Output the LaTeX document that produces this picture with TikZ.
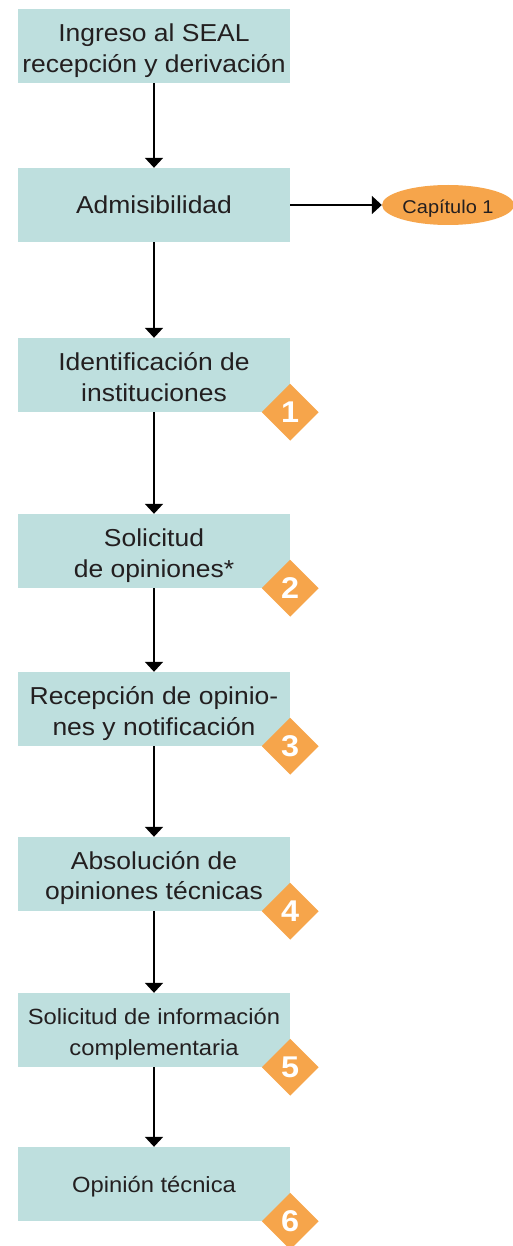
\documentclass[tikz,border=0pt]{standalone}
\usepackage{fontspec}
\setmainfont{Liberation Sans}[FakeStretch=1.08]
\usetikzlibrary{shapes.geometric,arrows.meta}
\definecolor{boxfill}{HTML}{BEDFDE}
\definecolor{orng}{HTML}{F6A54B}
\definecolor{ink}{HTML}{231F20}
\tikzset{
  stepbox/.style={rectangle, fill=boxfill, minimum width=272pt, minimum height=74pt, inner sep=0pt},
  lbl/.style={anchor=base, inner sep=0pt, text=ink, font=\fontsize{24.5}{31}\selectfont},
  slbl/.style={lbl, font=\fontsize{22}{31}\selectfont},
  badge/.style={diamond, fill=orng, minimum size=57pt, inner sep=0pt, text=white, font=\fontsize{30}{30}\selectfont\bfseries},
  flow/.style={line width=2pt, draw=black, -{Triangle[width=18pt,length=10pt]}},
  chap/.style={ellipse, fill=orng, minimum width=132pt, minimum height=40pt, inner sep=0pt}
}
\begin{document}
\begin{tikzpicture}[x=1pt,y=-1pt]
\useasboundingbox (0,0) rectangle (512,1246);
\node[stepbox] (b1) at (154,46) {};
\node[stepbox] (b2) at (154,205) {};
\node[stepbox] (b3) at (154,375) {};
\node[stepbox] (b4) at (154,551) {};
\node[stepbox] (b5) at (154,709) {};
\node[stepbox] (b6) at (154,874) {};
\node[stepbox] (b7) at (154,1030) {};
\node[stepbox] (b8) at (154,1184) {};
\node[chap] (c1) at (448,205) {};
% texts
\node[lbl] (t1a) at ([yshift=4.7pt]b1.center) {Ingreso al SEAL};
\node[lbl] (t1b) at ([yshift=-26.3pt]b1.center) {recepción y derivación};
\node[lbl] (t2) at ([yshift=-8.3pt]b2.center) {Admisibilidad};
\node[lbl] (t3a) at ([yshift=4.7pt]b3.center) {Identificación de};
\node[lbl] (t3b) at ([yshift=-26.3pt]b3.center) {instituciones};
\node[lbl] (t4a) at ([yshift=4.7pt]b4.center) {Solicitud};
\node[lbl] (t4b) at ([yshift=-26.3pt]b4.center) {de opiniones*};
\node[lbl] (t5a) at ([yshift=4.7pt]b5.center) {Recepción de opinio-};
\node[lbl] (t5b) at ([yshift=-26.3pt]b5.center) {nes y notificación};
\node[lbl] (t6a) at ([yshift=4.7pt]b6.center) {Absolución de};
\node[lbl] (t6b) at ([yshift=-25pt]b6.center) {opiniones técnicas};
\node[slbl] (t7a) at ([yshift=6pt]b7.center) {Solicitud de información};
\node[slbl] (t7b) at ([yshift=-25pt]b7.center) {complementaria};
\node[slbl] (t8) at ([yshift=-8pt]b8.center) {Opinión técnica};
\node[lbl, font=\fontsize{18.5}{20}\selectfont] (tc) at ([yshift=-8.3pt]c1.center) {Capítulo 1};
% badges
\node[badge] (d1) at (b3.south east) {1};
\node[badge] (d2) at (b4.south east) {2};
\node[badge] (d3) at (b5.south east) {3};
\node[badge] (d4) at (b6.south east) {4};
\node[badge] (d5) at (b7.south east) {5};
\node[badge] (d6) at (b8.south east) {6};
% connectors
\draw[flow] (b1) -- (b2);
\draw[flow] (b2) -- (b3);
\draw[flow] (b3) -- (b4);
\draw[flow] (b4) -- (b5);
\draw[flow] (b5) -- (b6);
\draw[flow] (b6) -- (b7);
\draw[flow] (b7) -- (b8);
\draw[flow] (b2) -- (c1);
\end{tikzpicture}
\end{document}
